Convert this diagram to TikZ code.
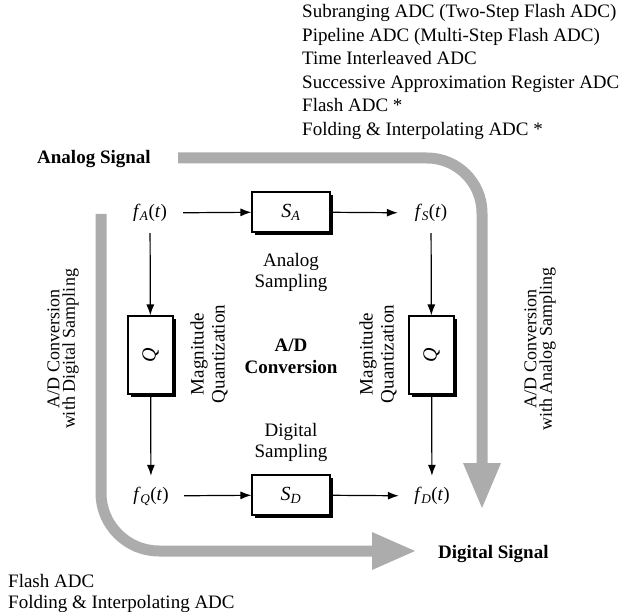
\documentclass[tikz,border=0pt]{standalone}
\usepackage{fontspec}
\setmainfont{Liberation Serif}
\usetikzlibrary{arrows.meta,shadows}
\definecolor{bandgray}{RGB}{172,172,172}
\newcommand{\sig}[1]{\textit{f}\textsubscript{\kern-0.5pt\textit{#1}}(\textit{t})}
\begin{document}
\begin{tikzpicture}[x=1pt,y=-1pt,
  txt/.style={inner sep=0pt, font=\fontsize{19}{21}\selectfont},
  bold/.style={inner sep=0pt, font=\fontsize{19}{22}\selectfont\bfseries, align=center},
  lbl/.style={inner sep=0pt, font=\fontsize{19}{21}\selectfont, align=center},
  side/.style={inner sep=0pt, font=\fontsize{18}{15.5}\selectfont, align=center, rotate=90},
  sigl/.style={inner sep=0pt, minimum width=66pt, minimum height=40pt, font=\fontsize{19}{21}\selectfont},
  blk/.style={draw, line width=1.1pt, fill=white, inner sep=0pt,
    font=\fontsize{20}{22}\selectfont,
    drop shadow={shadow xshift=3pt, shadow yshift=-3pt, fill=black, opacity=1}},
  sbox/.style={blk, minimum width=78pt, minimum height=40pt},
  qbox/.style={blk, minimum width=45pt, minimum height=78pt},
  arr/.style={line width=1.2pt, -{Latex[length=11pt,width=8pt]}},
  band/.style={draw=bandgray, line width=11pt, line cap=butt}
]
\useasboundingbox (0,0) rectangle (619,612);

% gray bands
\coordinate (a1) at (178,158);
\coordinate (a2) at (482,158);
\coordinate (a3) at (482,463);
\draw[band, rounded corners=55pt] (a1) -- (a2) -- (a3);
\fill[bandgray] ([xshift=-19pt]a3) -- ([xshift=19pt]a3) -- ([yshift=-45pt]a3) -- cycle;

\coordinate (b1) at (101,214);
\coordinate (b2) at (101,551);
\coordinate (b3) at (372,551);
\draw[band, rounded corners=58pt] (b1) -- (b2) -- (b3);
\fill[bandgray] ([yshift=19pt]b3) -- ([yshift=-19pt]b3) -- ([xshift=43pt]b3) -- cycle;

% lists
\node[txt, anchor=base west] (t1) at (302,18) {Subranging ADC (Two-Step Flash ADC)};
\node[txt, anchor=base west] (t2) at (302,41.5) {Pipeline ADC (Multi-Step Flash ADC)};
\node[txt, anchor=base west] (t3) at (302,65) {Time Interleaved ADC};
\node[txt, anchor=base west] (t4) at (302,88.5) {Successive Approximation Register ADC};
\node[txt, anchor=base west] (t5) at (302,112) {Flash ADC *};
\node[txt, anchor=base west] (t6) at (302,135.5) {Folding \& Interpolating ADC *};

\node[txt, anchor=base west] (u1) at (8,587) {Flash ADC};
\node[txt, anchor=base west] (u2) at (8,608) {Folding \& Interpolating ADC};

\node[txt, font=\fontsize{19}{21}\selectfont\bfseries, anchor=base west] (as) at (37,164) {Analog Signal};
\node[txt, font=\fontsize{19}{21}\selectfont\bfseries, anchor=base west] (ds) at (438,558) {Digital Signal};

% signal nodes
\node[sigl] (fA) at (150,213) {\sig{A}};
\node[sigl] (fS) at (431,213) {\sig{S}};
\node[sigl] (fQ) at (151,496) {\sig{Q}};
\node[sigl] (fD) at (432,496) {\sig{D}};

\node[sbox] (SA) at (291,212) {\textit{S}\textsubscript{\textit{A}}};
\node[sbox] (SD) at (291,495) {\textit{S}\textsubscript{\textit{D}}};
\node[qbox] (QL) at (150.5,355) {\rotatebox{90}{\textit{Q}}};
\node[qbox] (QR) at (431.5,355) {\rotatebox{90}{\textit{Q}}};

\draw[arr] (fA) -- (SA);
\draw[arr] (SA) -- (fS);
\draw[arr] (fQ) -- (SD);
\draw[arr] (SD) -- (fD);
\draw[arr] (fA) -- (QL);
\draw[arr] (QL) -- (fQ);
\draw[arr] (fS) -- (QR);
\draw[arr] (QR) -- (fD);

% labels
\node[lbl] (asmp) at (291,272.5) {Analog\\Sampling};
\node[lbl] (dsmp) at (291,442) {Digital\\Sampling};
\node[bold] (adc) at (291,356.5) {A/D\\Conversion};
\node[lbl, rotate=90] (mq1) at (209,354) {Magnitude\\Quantization};
\node[lbl, rotate=90] (mq2) at (378,354) {Magnitude\\Quantization};
\node[side] (sl) at (63,349) {A/D Conversion\\with Digital Sampling};
\node[side] (sr) at (540,349) {A/D Conversion\\with Analog Sampling};
\end{tikzpicture}
\end{document}
